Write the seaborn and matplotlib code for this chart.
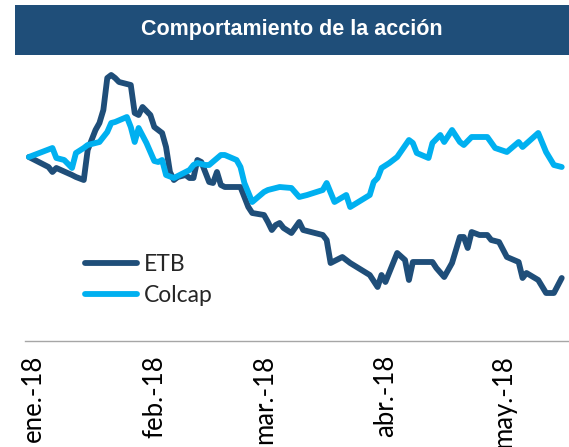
import pandas as pd
import numpy as np
import matplotlib
matplotlib.use('Agg')
import matplotlib.pyplot as plt
import matplotlib.transforms as mtransforms
from matplotlib.patches import Rectangle
import seaborn as sns

# ETB (indexed, start = 100)
etb_dates = ['2018-01-02', '2018-01-07', '2018-01-08', '2018-01-09', '2018-01-13', '2018-01-14',
             '2018-01-16', '2018-01-17', '2018-01-18', '2018-01-19', '2018-01-20', '2018-01-21',
             '2018-01-22', '2018-01-23', '2018-01-24', '2018-01-25', '2018-01-26', '2018-01-28',
             '2018-01-29', '2018-01-30', '2018-01-31', '2018-02-02', '2018-02-03', '2018-02-04',
             '2018-02-05', '2018-02-06', '2018-02-07', '2018-02-08', '2018-02-09', '2018-02-11',
             '2018-02-12', '2018-02-13', '2018-02-14', '2018-02-15', '2018-02-16', '2018-02-17',
             '2018-02-18', '2018-02-19', '2018-02-20', '2018-02-21', '2018-02-25', '2018-02-26',
             '2018-02-27', '2018-02-28', '2018-03-03', '2018-03-04', '2018-03-05', '2018-03-06',
             '2018-03-07', '2018-03-08', '2018-03-10', '2018-03-12', '2018-03-13', '2018-03-18',
             '2018-03-19', '2018-03-20', '2018-03-23', '2018-03-25', '2018-03-30', '2018-04-01',
             '2018-04-02', '2018-04-03', '2018-04-06', '2018-04-08', '2018-04-09', '2018-04-10',
             '2018-04-15', '2018-04-16', '2018-04-18', '2018-04-20', '2018-04-22', '2018-04-23',
             '2018-04-24', '2018-04-25', '2018-04-27', '2018-04-29', '2018-04-30', '2018-05-02',
             '2018-05-04', '2018-05-07', '2018-05-08', '2018-05-09', '2018-05-12', '2018-05-14',
             '2018-05-16', '2018-05-18']
etb_values = [100.0, 98.0, 97.0, 97.8, 96.4, 96.0,
              95.4, 101.4, 103.4, 105.4, 106.8, 109.4,
              115.8, 116.4, 115.8, 115.0, 114.8, 114.4,
              108.8, 108.4, 110.0, 108.4, 106.0, 105.4,
              104.8, 102.0, 97.0, 95.4, 96.0, 96.4,
              95.8, 95.8, 99.4, 99.0, 97.0, 95.0,
              94.8, 97.0, 94.4, 94.0, 94.0, 92.0,
              90.0, 88.8, 88.4, 87.0, 85.4, 86.4,
              86.8, 85.8, 84.8, 87.0, 85.4, 84.4,
              83.4, 78.8, 80.0, 78.8, 76.4, 74.0,
              76.4, 75.0, 80.8, 79.4, 75.4, 79.0,
              79.0, 77.8, 76.0, 78.8, 84.0, 84.0,
              81.8, 85.0, 84.4, 84.4, 83.4, 83.0,
              80.0, 79.0, 75.8, 76.8, 75.4, 72.8,
              72.8, 75.8]

# Colcap (indexed, start = 100)
colcap_dates = ['2018-01-02', '2018-01-08', '2018-01-09', '2018-01-11', '2018-01-13', '2018-01-14',
                '2018-01-16', '2018-01-17', '2018-01-20', '2018-01-22', '2018-01-23', '2018-01-24',
                '2018-01-27', '2018-01-28', '2018-01-29', '2018-01-30', '2018-02-01', '2018-02-03',
                '2018-02-04', '2018-02-05', '2018-02-06', '2018-02-08', '2018-02-11', '2018-02-12',
                '2018-02-13', '2018-02-14', '2018-02-16', '2018-02-17', '2018-02-20', '2018-02-21',
                '2018-02-24', '2018-02-25', '2018-02-26', '2018-02-28', '2018-03-03', '2018-03-04',
                '2018-03-07', '2018-03-10', '2018-03-12', '2018-03-14', '2018-03-18', '2018-03-19',
                '2018-03-21', '2018-03-24', '2018-03-25', '2018-03-30', '2018-03-31', '2018-04-01',
                '2018-04-02', '2018-04-04', '2018-04-06', '2018-04-09', '2018-04-10', '2018-04-11',
                '2018-04-14', '2018-04-15', '2018-04-17', '2018-04-18', '2018-04-20', '2018-04-22',
                '2018-04-23', '2018-04-25', '2018-04-29', '2018-05-01', '2018-05-04', '2018-05-07',
                '2018-05-08', '2018-05-12', '2018-05-14', '2018-05-16', '2018-05-18']
colcap_values = [100.0, 101.8, 99.8, 99.4, 97.8, 100.8,
                 101.8, 102.4, 103.0, 105.0, 106.8, 107.0,
                 108.0, 106.0, 103.0, 105.8, 102.8, 99.2,
                 99.0, 99.4, 96.4, 95.8, 97.0, 97.4,
                 98.4, 98.8, 98.4, 98.4, 100.4, 100.4,
                 99.4, 98.0, 94.8, 91.0, 93.0, 93.4,
                 94.0, 93.8, 92.0, 92.4, 93.4, 94.8,
                 91.0, 92.4, 90.0, 92.4, 95.0, 95.8,
                 97.8, 98.8, 100.0, 103.4, 102.8, 100.8,
                 99.8, 102.8, 104.4, 103.0, 105.4, 103.0,
                 102.4, 104.0, 104.0, 101.8, 101.0, 103.0,
                 102.0, 104.8, 101.0, 98.4, 98.0]

series_names = ['ETB', 'Colcap']
series_colors = ['#1F4E79', '#00B0F0']
month_ticks = ['2018-01-01', '2018-02-01', '2018-03-01', '2018-04-01', '2018-05-01']
month_labels = ['ene.-18', 'feb.-18', 'mar.-18', 'abr.-18', 'may.-18']
title_text = 'Comportamiento de la acción'

df = pd.concat([
    pd.DataFrame({'fecha': pd.to_datetime(etb_dates), 'valor': etb_values, 'serie': 'ETB'}),
    pd.DataFrame({'fecha': pd.to_datetime(colcap_dates), 'valor': colcap_values, 'serie': 'Colcap'}),
])

sns.set_style('white')
plt.rcParams['font.family'] = ['Lato', 'DejaVu Sans']

fig = plt.figure(figsize=(5.69, 4.47), dpi=100)
ax = fig.add_axes([25 / 569, 106 / 447, 543 / 569, 281 / 447])

sns.lineplot(data=df, x='fecha', y='valor', hue='serie', hue_order=series_names,
             palette=series_colors, lw=4.2, solid_capstyle='round', solid_joinstyle='round',
             estimator=None, sort=True, ax=ax)

t0 = pd.Timestamp('2018-01-01')
ax.set_xlim(t0 + pd.Timedelta(days=0.76), t0 + pd.Timedelta(days=138.6))
ax.set_ylim(63.2, 119.4)

ax.set_xticks(pd.to_datetime(month_ticks))
ax.set_xticklabels(month_labels, rotation=90, fontsize=18.5, color='#000000', va='top', ha='center')
ax.tick_params(axis='x', length=0, pad=10)
offset = mtransforms.ScaledTranslation(8 / 100, 0, fig.dpi_scale_trans)
for lbl in ax.get_xticklabels():
    lbl.set_transform(lbl.get_transform() + offset)

ax.set_yticks([])
ax.set_xlabel('')
ax.set_ylabel('')
for side in ['top', 'right', 'left']:
    ax.spines[side].set_visible(False)
ax.spines['bottom'].set_color('#A6A6A6')
ax.spines['bottom'].set_linewidth(1.0)

handles, labels = ax.get_legend_handles_labels()
ax.legend(handles, labels, loc='center left', bbox_to_anchor=(0.11, 0.217), frameon=False,
          fontsize=16.5, handlelength=2.3, handletextpad=0.3, labelspacing=0.4,
          borderpad=0, borderaxespad=0)

# title bar
fig.patches.append(Rectangle((15 / 569, 392 / 447), 554 / 569, 50 / 447, transform=fig.transFigure,
                             facecolor='#1F4E79', edgecolor='none', zorder=0))
fig.text((15 + 569) / 2 / 569, 417 / 447, title_text, color='white', fontsize=15.5,
         fontweight='bold', family=['Liberation Sans', 'DejaVu Sans'], ha='center', va='center')

fig.savefig('out.png', dpi=100)
